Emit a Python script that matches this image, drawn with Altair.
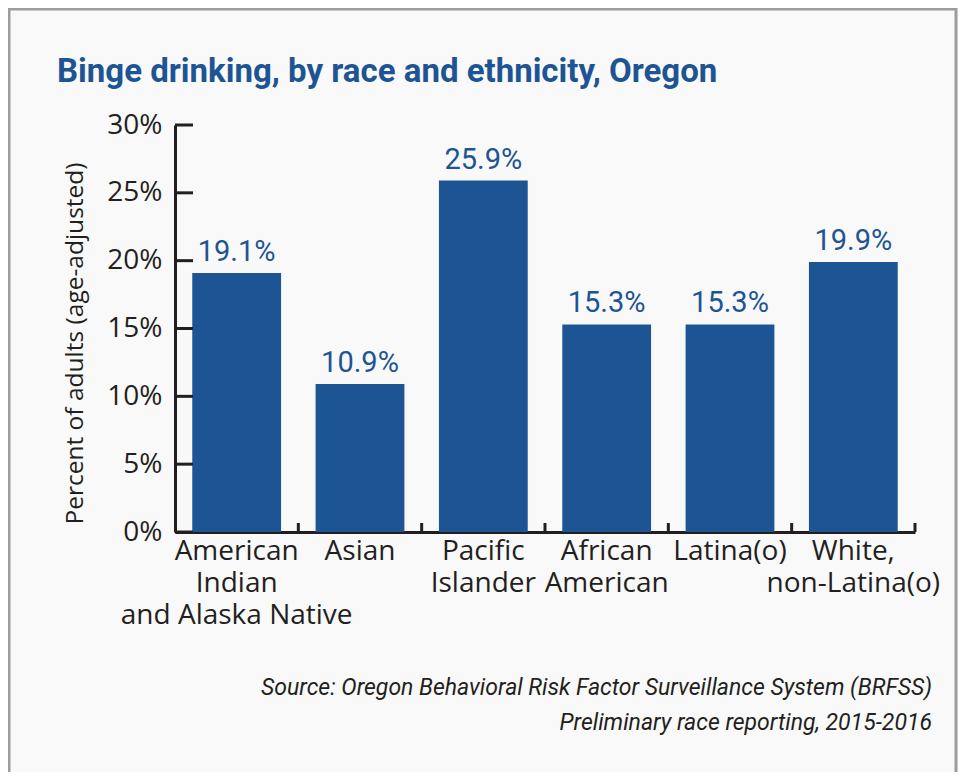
import altair as alt
import pandas as pd

categories = ["American|Indian|and Alaska Native", "Asian", "Pacific|Islander",
              "African|American", "Latina(o)", "White,|non-Latina(o)"]
values = [19.1, 10.9, 25.9, 15.3, 15.3, 19.9]
value_labels = ["19.1%", "10.9%", "25.9%", "15.3%", "15.3%", "19.9%"]
y_ticks = [0, 5, 10, 15, 20, 25, 30]

title_text = "Binge drinking, by race and ethnicity, Oregon"
y_title = "Percent of adults (age-adjusted)"
source_lines = ["Source: Oregon Behavioral Risk Factor Surveillance System (BRFSS)",
                "Preliminary race reporting, 2015-2016"]

BLUE = "#1d5594"
INK = "#231f20"
NARROW = "Roboto, Liberation Sans, sans-serif"
BODY = "Open Sans, Noto Sans, sans-serif"

W, H = 740, 407

df = pd.DataFrame({"race": categories, "value": values, "label": value_labels})
ticks_df = pd.DataFrame({"v": y_ticks})
one = alt.Data(values=[{"k": 1}])

x_enc = alt.X(
    "race:N", sort=categories, title=None,
    scale=alt.Scale(paddingInner=0, paddingOuter=0),
    axis=alt.Axis(labelAngle=0, ticks=False, domainWidth=3, domainColor=INK,
                  labelFont=BODY, labelFontSize=28, labelColor=INK,
                  labelLineHeight=32, labelPadding=5, labelLimit=400,
                  labelOverlap=False, labelBaseline="top",
                  labelExpr="split(datum.label, '|')"),
)
y_enc = alt.Y(
    "value:Q", scale=alt.Scale(domain=[0, 30], nice=False),
    axis=alt.Axis(values=y_ticks, ticks=False, grid=False, domainWidth=3,
                  domainColor=INK, labelFont=BODY, labelFontSize=28,
                  labelColor=INK, labelPadding=13,
                  labelExpr="datum.value + '%'",
                  title=y_title, titleFont=BODY, titleFontSize=24.5,
                  titleFontWeight="normal", titleColor=INK, titleAngle=-90,
                  titleX=-100, titleY=218, titleAlign="center",
                  titleBaseline="middle"),
)

bars = alt.Chart(df).mark_bar(color=BLUE, width={"band": 0.72}).encode(x=x_enc, y=y_enc)

labels = alt.Chart(df).mark_text(
    color=BLUE, font=NARROW, fontSize=29, dy=-12, baseline="alphabetic"
).encode(x=alt.X("race:N", sort=categories), y="value:Q", text="label:N")

xticks = alt.Chart(df).mark_rule(color=INK, strokeWidth=3).encode(
    x=alt.X("race:N", sort=categories, bandPosition=1),
    y=alt.value(H - 9), y2=alt.value(H),
)

yticks = alt.Chart(ticks_df).mark_rule(color=INK, strokeWidth=3).encode(
    y=alt.Y("v:Q"), x=alt.value(0), x2=alt.value(18),
)

title = alt.Chart(one).mark_text(
    text=title_text, font=NARROW, fontSize=33, fontWeight="bold", color=BLUE,
    align="left", baseline="alphabetic"
).encode(x=alt.value(-118), y=alt.value(-43))

src1 = alt.Chart(one).mark_text(
    text=source_lines[0], font=NARROW, fontSize=23, fontStyle="italic", color=INK,
    align="right", baseline="alphabetic"
).encode(x=alt.value(757), y=alt.value(570))

src2 = alt.Chart(one).mark_text(
    text=source_lines[1], font=NARROW, fontSize=23, fontStyle="italic", color=INK,
    align="right", baseline="alphabetic"
).encode(x=alt.value(757), y=alt.value(605))

frame = alt.Chart(one).mark_rect(
    fill=None, stroke="#9d9d9d", strokeWidth=3
).encode(x=alt.value(-166), x2=alt.value(781), y=alt.value(-116), y2=alt.value(700))

chart = alt.layer(frame, bars, labels, xticks, yticks, title, src1, src2).properties(
    width=W, height=H,
    autosize=alt.AutoSizeParams(type="none"),
    padding={"left": 167, "top": 117, "right": 44, "bottom": 240},
    background="#f9f9f9",
).configure_view(stroke=None)

chart.save("out.html", embed_options={"renderer": "svg", "actions": False})
